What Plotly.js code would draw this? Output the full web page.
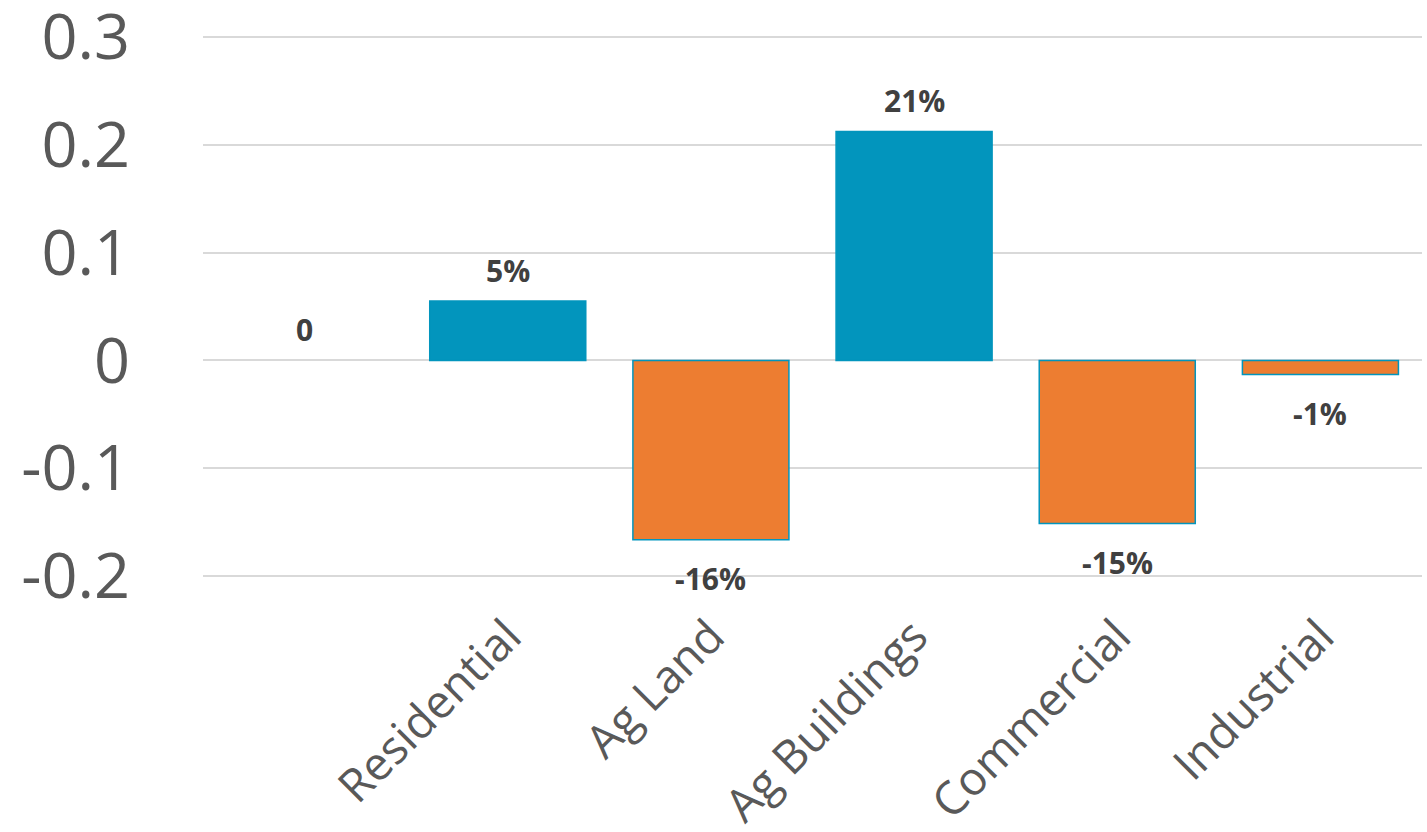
<!DOCTYPE html>
<html>
<head>
<meta charset="utf-8">
<script src="https://cdn.plot.ly/plotly-3.0.1.min.js"></script>
<style>html,body{margin:0;padding:0;background:#fff;}#chart{width:1427px;height:832px;}</style>
</head>
<body>
<div id="chart"></div>
<script>
const categories = [" ", "Residential", "Ag Land", "Ag Buildings", "Commercial", "Industrial"];
const values = [0, 0.055, -0.166, 0.212, -0.151, -0.013];
const valueLabels = ["0", "5%", "-16%", "21%", "-15%", "-1%"];
const yTickVals = [-0.2, -0.1, 0, 0.1, 0.2, 0.3];
const yTickText = ["-0.2", "-0.1", "0", "0.1", "0.2", "0.3"];

const BLUE = "#0295bd";
const ORANGE = "#ed7d31";

const trace = {
  type: "bar",
  x: categories,
  y: values,
  marker: {
    color: values.map(v => v < 0 ? ORANGE : BLUE),
    line: { color: BLUE, width: values.map(v => v === 0 ? 0 : 1.5) }
  },
  hoverinfo: "skip"
};

const annotations = values.map((v, i) => ({
  x: categories[i],
  y: v,
  xref: "x",
  yref: "y",
  text: valueLabels[i],
  showarrow: false,
  yanchor: "middle",
  yshift: v < 0 ? -39 : 31,
  font: { family: "Open Sans, sans-serif", size: 30, color: "#404040", weight: "bold" }
}));

const layout = {
  width: 1427,
  height: 832,
  margin: { l: 203, r: 5, t: 35, b: 254 },
  paper_bgcolor: "#ffffff",
  plot_bgcolor: "#ffffff",
  showlegend: false,
  bargap: 0.232,
  font: { family: "Open Sans, sans-serif", color: "#595959" },
  xaxis: {
    type: "category",
    categoryarray: categories,
    categoryorder: "array",
    tickangle: -45,
    tickfont: { size: 46, color: "#595959" },
    showgrid: false,
    showline: false,
    zeroline: false,
    ticks: "",
    ticklabelstandoff: 21,
    ticklabeloverflow: "allow",
    automargin: false
  },
  yaxis: {
    range: [-0.2015, 0.3015],
    tickvals: yTickVals,
    ticktext: yTickText,
    tickfont: { size: 63, color: "#595959" },
    showgrid: true,
    gridcolor: "#d9d9d9",
    gridwidth: 2,
    zeroline: true,
    zerolinecolor: "#d9d9d9",
    zerolinewidth: 2,
    showline: false,
    ticks: "",
    ticklabelstandoff: 72,
    ticklabeloverflow: "allow",
    automargin: false
  },
  annotations: annotations
};

Plotly.newPlot("chart", [trace], layout, { displayModeBar: false, staticPlot: true });
</script>
</body>
</html>
